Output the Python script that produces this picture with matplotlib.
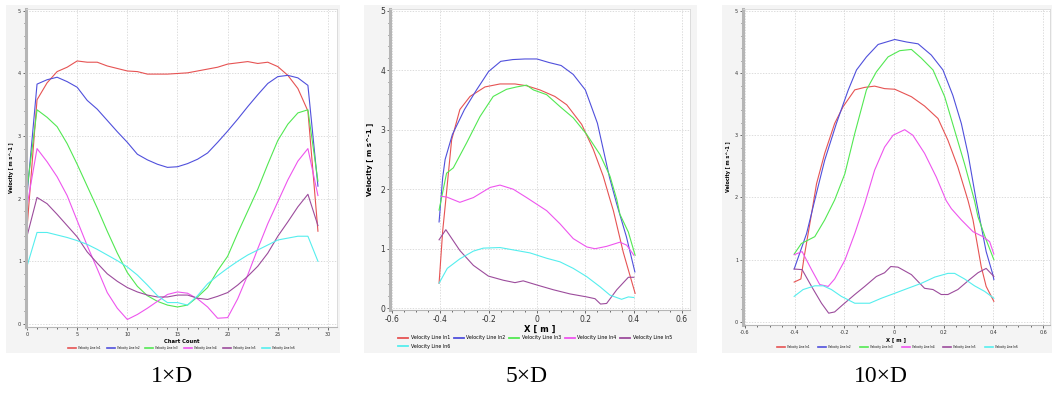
import matplotlib
matplotlib.use("Agg")
import matplotlib.pyplot as plt
from matplotlib.patches import Rectangle
import numpy as np

# ---- data ----
names = ["Velocity Line ln1", "Velocity Line ln2", "Velocity Line ln3",
         "Velocity Line ln4", "Velocity Line ln5", "Velocity Line ln6"]
colors = ["#e65353", "#5050dc", "#52e852", "#ee55ee", "#9c4c9c", "#55eeee"]

# 1xD, chart count 0..29
count1 = list(range(30))
d1_ln1 = [1.52, 3.58, 3.85, 4.03, 4.10, 4.20, 4.18, 4.18, 4.12, 4.08, 4.04, 4.03, 3.99, 3.99, 3.99,
          4.00, 4.01, 4.04, 4.07, 4.10, 4.15, 4.17, 4.19, 4.16, 4.18, 4.11, 3.97, 3.76, 3.40, 1.48]
d1_ln2 = [2.05, 3.83, 3.90, 3.94, 3.87, 3.78, 3.57, 3.43, 3.25, 3.07, 2.90, 2.71, 2.62, 2.55, 2.50,
          2.51, 2.56, 2.63, 2.73, 2.90, 3.08, 3.27, 3.47, 3.66, 3.84, 3.95, 3.97, 3.93, 3.81, 2.20]
d1_ln3 = [2.15, 3.42, 3.30, 3.15, 2.88, 2.55, 2.20, 1.85, 1.48, 1.13, 0.82, 0.60, 0.45, 0.36, 0.30,
          0.27, 0.30, 0.43, 0.58, 0.85, 1.08, 1.45, 1.80, 2.15, 2.55, 2.93, 3.19, 3.37, 3.42, 2.28]
d1_ln4 = [1.88, 2.80, 2.59, 2.35, 2.05, 1.65, 1.25, 0.88, 0.50, 0.25, 0.07, 0.15, 0.25, 0.36, 0.47,
          0.51, 0.49, 0.40, 0.27, 0.09, 0.10, 0.40, 0.78, 1.20, 1.60, 1.95, 2.30, 2.60, 2.80, 2.05]
d1_ln5 = [1.40, 2.02, 1.92, 1.75, 1.57, 1.39, 1.15, 0.97, 0.80, 0.68, 0.58, 0.51, 0.46, 0.43, 0.43,
          0.46, 0.46, 0.41, 0.39, 0.44, 0.50, 0.62, 0.76, 0.92, 1.13, 1.40, 1.63, 1.87, 2.07, 1.57]
d1_ln6 = [0.92, 1.46, 1.46, 1.42, 1.38, 1.33, 1.27, 1.19, 1.10, 1.01, 0.91, 0.78, 0.62, 0.45, 0.34,
          0.34, 0.30, 0.45, 0.64, 0.77, 0.89, 1.00, 1.10, 1.18, 1.26, 1.34, 1.37, 1.40, 1.40, 1.00]

# 5xD, X [m]
x5_ln1 = [-0.405, -0.39, -0.377, -0.353, -0.319, -0.277, -0.215, -0.153, -0.091, -0.043, 0.012, 0.074,
          0.123, 0.185, 0.233, 0.274, 0.302, 0.316, 0.357, 0.406]
d5_ln1 = [0.42, 1.30, 1.83, 2.83, 3.34, 3.56, 3.72, 3.77, 3.77, 3.74, 3.67, 3.56,
          3.42, 3.09, 2.67, 2.22, 1.83, 1.64, 0.94, 0.25]
x5_ln2 = [-0.405, -0.39, -0.38, -0.35, -0.30, -0.25, -0.20, -0.15, -0.10, -0.05, 0.0, 0.05,
          0.10, 0.15, 0.20, 0.25, 0.30, 0.33, 0.37, 0.405]
d5_ln2 = [1.45, 2.20, 2.50, 2.92, 3.34, 3.67, 3.98, 4.15, 4.18, 4.19, 4.19, 4.13,
          4.08, 3.93, 3.67, 3.11, 2.20, 1.75, 1.20, 0.61]
x5_ln3 = [-0.405, -0.374, -0.346, -0.291, -0.236, -0.181, -0.126, -0.084, -0.043, -0.015, 0.04, 0.095,
          0.15, 0.206, 0.261, 0.302, 0.33, 0.343, 0.378, 0.406]
d5_ln3 = [1.65, 2.27, 2.36, 2.78, 3.22, 3.56, 3.68, 3.72, 3.75, 3.67, 3.59, 3.39,
          3.20, 2.92, 2.58, 2.22, 1.83, 1.58, 1.28, 0.89]
x5_ln4 = [-0.395, -0.374, -0.319, -0.263, -0.194, -0.153, -0.098, -0.043, 0.04, 0.095, 0.15, 0.206,
          0.24, 0.288, 0.343, 0.371, 0.401]
d5_ln4 = [1.88, 1.87, 1.78, 1.86, 2.03, 2.07, 2.00, 1.86, 1.64, 1.42, 1.17, 1.03,
          1.00, 1.04, 1.11, 1.06, 0.89]
x5_ln5 = [-0.405, -0.377, -0.319, -0.263, -0.201, -0.139, -0.091, -0.057, 0.0, 0.068, 0.137, 0.206,
          0.24, 0.263, 0.288, 0.33, 0.378, 0.401]
d5_ln5 = [1.15, 1.32, 0.97, 0.72, 0.54, 0.47, 0.43, 0.46, 0.39, 0.31, 0.24, 0.19,
          0.16, 0.07, 0.08, 0.31, 0.52, 0.52]
x5_ln6 = [-0.405, -0.371, -0.319, -0.263, -0.222, -0.153, -0.084, -0.029, 0.04, 0.095, 0.15, 0.206,
          0.261, 0.302, 0.35, 0.378, 0.401]
d5_ln6 = [0.42, 0.67, 0.83, 0.96, 1.01, 1.02, 0.97, 0.93, 0.84, 0.78, 0.67, 0.53,
          0.36, 0.22, 0.15, 0.19, 0.18]

# 10xD, X [m]
x10_ln1 = [-0.402, -0.375, -0.362, -0.332, -0.312, -0.279, -0.239, -0.205, -0.158, -0.118, -0.078, -0.038,
           0.003, 0.07, 0.123, 0.177, 0.217, 0.257, 0.298, 0.318, 0.351, 0.371, 0.402]
d10_ln1 = [0.64, 0.69, 1.04, 1.74, 2.22, 2.71, 3.19, 3.46, 3.73, 3.77, 3.79, 3.75,
           3.74, 3.62, 3.47, 3.27, 2.92, 2.49, 1.95, 1.64, 0.89, 0.57, 0.33]
x10_ln2 = [-0.402, -0.352, -0.306, -0.279, -0.232, -0.185, -0.151, -0.111, -0.064, 0.003, 0.05, 0.097,
           0.15, 0.197, 0.237, 0.271, 0.298, 0.331, 0.371, 0.398, 0.402]
d10_ln2 = [0.85, 1.42, 2.17, 2.60, 3.19, 3.72, 4.05, 4.26, 4.46, 4.54, 4.50, 4.47,
           4.29, 4.05, 3.64, 3.19, 2.70, 1.95, 1.13, 0.76, 0.68]
x10_ln3 = [-0.402, -0.373, -0.319, -0.279, -0.239, -0.198, -0.158, -0.111, -0.071, -0.024, 0.023, 0.07,
           0.11, 0.157, 0.204, 0.244, 0.284, 0.324, 0.338, 0.371, 0.402]
d10_ln3 = [1.09, 1.26, 1.37, 1.64, 1.96, 2.38, 3.03, 3.73, 4.02, 4.26, 4.36, 4.38,
           4.24, 4.05, 3.62, 3.08, 2.54, 1.95, 1.69, 1.32, 1.00]
x10_ln4 = [-0.402, -0.37, -0.332, -0.299, -0.265, -0.239, -0.198, -0.158, -0.118, -0.078, -0.038, -0.004,
           0.043, 0.076, 0.123, 0.17, 0.21, 0.231, 0.271, 0.318, 0.358, 0.385, 0.402]
d10_ln4 = [1.08, 1.13, 0.84, 0.60, 0.57, 0.69, 0.99, 1.42, 1.90, 2.44, 2.81, 3.00,
           3.09, 3.00, 2.71, 2.33, 1.95, 1.82, 1.64, 1.45, 1.37, 1.29, 1.09]
x10_ln5 = [-0.402, -0.37, -0.332, -0.292, -0.263, -0.239, -0.205, -0.158, -0.118, -0.071, -0.038, -0.013,
           0.016, 0.07, 0.123, 0.157, 0.19, 0.217, 0.257, 0.304, 0.338, 0.371, 0.402]
d10_ln5 = [0.85, 0.84, 0.57, 0.30, 0.14, 0.16, 0.28, 0.44, 0.57, 0.73, 0.79, 0.89,
           0.88, 0.76, 0.54, 0.52, 0.44, 0.44, 0.52, 0.68, 0.79, 0.86, 0.73]
x10_ln6 = [-0.402, -0.366, -0.319, -0.285, -0.252, -0.212, -0.158, -0.098, -0.051, 0.003, 0.056, 0.11,
           0.164, 0.217, 0.244, 0.284, 0.324, 0.365, 0.402]
d10_ln6 = [0.41, 0.52, 0.58, 0.58, 0.52, 0.41, 0.30, 0.30, 0.38, 0.46, 0.54, 0.62,
           0.72, 0.78, 0.78, 0.69, 0.58, 0.49, 0.38]

captions = ["1\u00d7D", "5\u00d7D", "10\u00d7D"]

fig = plt.figure(figsize=(10.52, 3.93), dpi=100)
W, H = 1052.0, 393.0

def px(x0, y0, x1, y1):
    # pixel box -> figure fraction [left, bottom, width, height]
    return [x0 / W, 1 - y1 / H, (x1 - x0) / W, (y1 - y0) / H]

# gray panel backgrounds (drawn below the axes)
for (a, b, c, d) in [(6, 5, 340, 353), (364, 5, 697, 353), (722, 5, 1052, 353)]:
    l, bt, w, h = px(a, b, c, d)
    fig.patches.append(Rectangle((l, bt), w, h, transform=fig.transFigure,
                                 facecolor="#f4f4f4", edgecolor="none", zorder=-10))

def style(ax, fs):
    ax.set_facecolor("white")
    ax.grid(True, color="#cfcfcf", linestyle=(0, (2, 2)), linewidth=0.5)
    ax.set_axisbelow(True)
    for s in ["top", "right"]:
        ax.spines[s].set_color("#d8d8d8")
        ax.spines[s].set_linewidth(0.6)
    ax.spines["left"].set_color("#b5b5b5")
    ax.spines["left"].set_linewidth(2.2)
    ax.spines["bottom"].set_color("#b5b5b5")
    ax.spines["bottom"].set_linewidth(0.8)
    ax.tick_params(labelsize=fs, length=2, width=0.5, colors="#333333", pad=1.5)
    ax.tick_params(which="minor", length=1.2, width=0.4)
    ax.set_ylim(-0.05, 5.03)
    ax.set_yticks([0, 1, 2, 3, 4, 5])
    ax.yaxis.set_minor_locator(matplotlib.ticker.MultipleLocator(0.2))

def small_legend(ax, cx, cy, colsp):
    leg = ax.legend(loc="center", bbox_to_anchor=(cx / W, 1 - cy / H), bbox_transform=fig.transFigure,
                    ncol=6, frameon=False, fontsize=2.0, handlelength=2.9, columnspacing=colsp,
                    handletextpad=0.72)
    for l in leg.get_lines():
        l.set_linewidth(1.2)

# ---- panel 1 ----
ax1 = fig.add_axes(px(26, 9, 337, 327))
style(ax1, 3.5)
for y, c, n in zip([d1_ln1, d1_ln2, d1_ln3, d1_ln4, d1_ln5, d1_ln6], colors, names):
    ax1.plot(count1, y, color=c, lw=0.8, label=n)
ax1.set_xlim(-0.1, 30.9)
ax1.set_xticks([0, 5, 10, 15, 20, 25, 30])
ax1.xaxis.set_minor_locator(matplotlib.ticker.MultipleLocator(1))
ax1.set_xlabel("Chart Count", fontsize=3.8, fontweight="bold", labelpad=1.5)
ax1.set_ylabel("Velocity [ m s^-1 ]", fontsize=3.5, fontweight="bold", labelpad=3)
small_legend(ax1, 181, 348, 2.2)

# ---- panel 2 ----
ax2 = fig.add_axes(px(390, 9, 690, 310))
style(ax2, 5.5)
xs2 = [x5_ln1, x5_ln2, x5_ln3, x5_ln4, x5_ln5, x5_ln6]
ys2 = [d5_ln1, d5_ln2, d5_ln3, d5_ln4, d5_ln5, d5_ln6]
lines2 = []
for x, y, c, n in zip(xs2, ys2, colors, names):
    lines2 += ax2.plot(x, y, color=c, lw=0.8, label=n)
ax2.set_xlim(-0.608, 0.633)
ax2.set_ylim(-0.03, 5.03)
ax2.set_xticks([-0.6, -0.4, -0.2, 0, 0.2, 0.4, 0.6])
ax2.set_xticklabels(["-0.6", "-0.4", "-0.2", "0", "0.2", "0.4", "0.6"])
ax2.xaxis.set_minor_locator(matplotlib.ticker.MultipleLocator(0.05))
ax2.set_xlabel("X [ m ]", fontsize=6, fontweight="bold", labelpad=1)
ax2.set_ylabel("Velocity [ m s^-1 ]", fontsize=5, fontweight="bold", labelpad=5)
# row-major order: first row ln1..ln5, second row ln6
order = [0, 5, 1, 2, 3, 4]
leg2 = ax2.legend([lines2[i] for i in order], [names[i] for i in order],
                  loc="upper left", bbox_to_anchor=(394 / W, 1 - 331 / H), bbox_transform=fig.transFigure,
                  ncol=5, frameon=False, fontsize=3.45, handlelength=2.1, columnspacing=0.84,
                  handletextpad=0.45, labelspacing=0.7)
for l in leg2.get_lines():
    l.set_linewidth(1.3)

# ---- panel 3 ----
ax3 = fig.add_axes(px(743, 9, 1050, 325))
style(ax3, 3.5)
xs3 = [x10_ln1, x10_ln2, x10_ln3, x10_ln4, x10_ln5, x10_ln6]
ys3 = [d10_ln1, d10_ln2, d10_ln3, d10_ln4, d10_ln5, d10_ln6]
for x, y, c, n in zip(xs3, ys3, colors, names):
    ax3.plot(x, y, color=c, lw=0.8, label=n)
ax3.set_xlim(-0.608, 0.628)
ax3.set_xticks([-0.6, -0.4, -0.2, 0, 0.2, 0.4, 0.6])
ax3.set_xticklabels(["-0.6", "-0.4", "-0.2", "0", "0.2", "0.4", "0.6"])
ax3.xaxis.set_minor_locator(matplotlib.ticker.MultipleLocator(0.05))
ax3.set_xlabel("X [ m ]", fontsize=3.8, fontweight="bold", labelpad=1.5)
ax3.set_ylabel("Velocity [ m s^-1 ]", fontsize=3.5, fontweight="bold", labelpad=3)
small_legend(ax3, 897, 347, 3.2)

# captions
for cx, t in zip([172, 527, 881], captions):
    fig.text(cx / W, 1 - 376 / H, t, ha="center", va="center", fontsize=17,
             family="Liberation Serif")

fig.savefig("out.png", dpi=100)
